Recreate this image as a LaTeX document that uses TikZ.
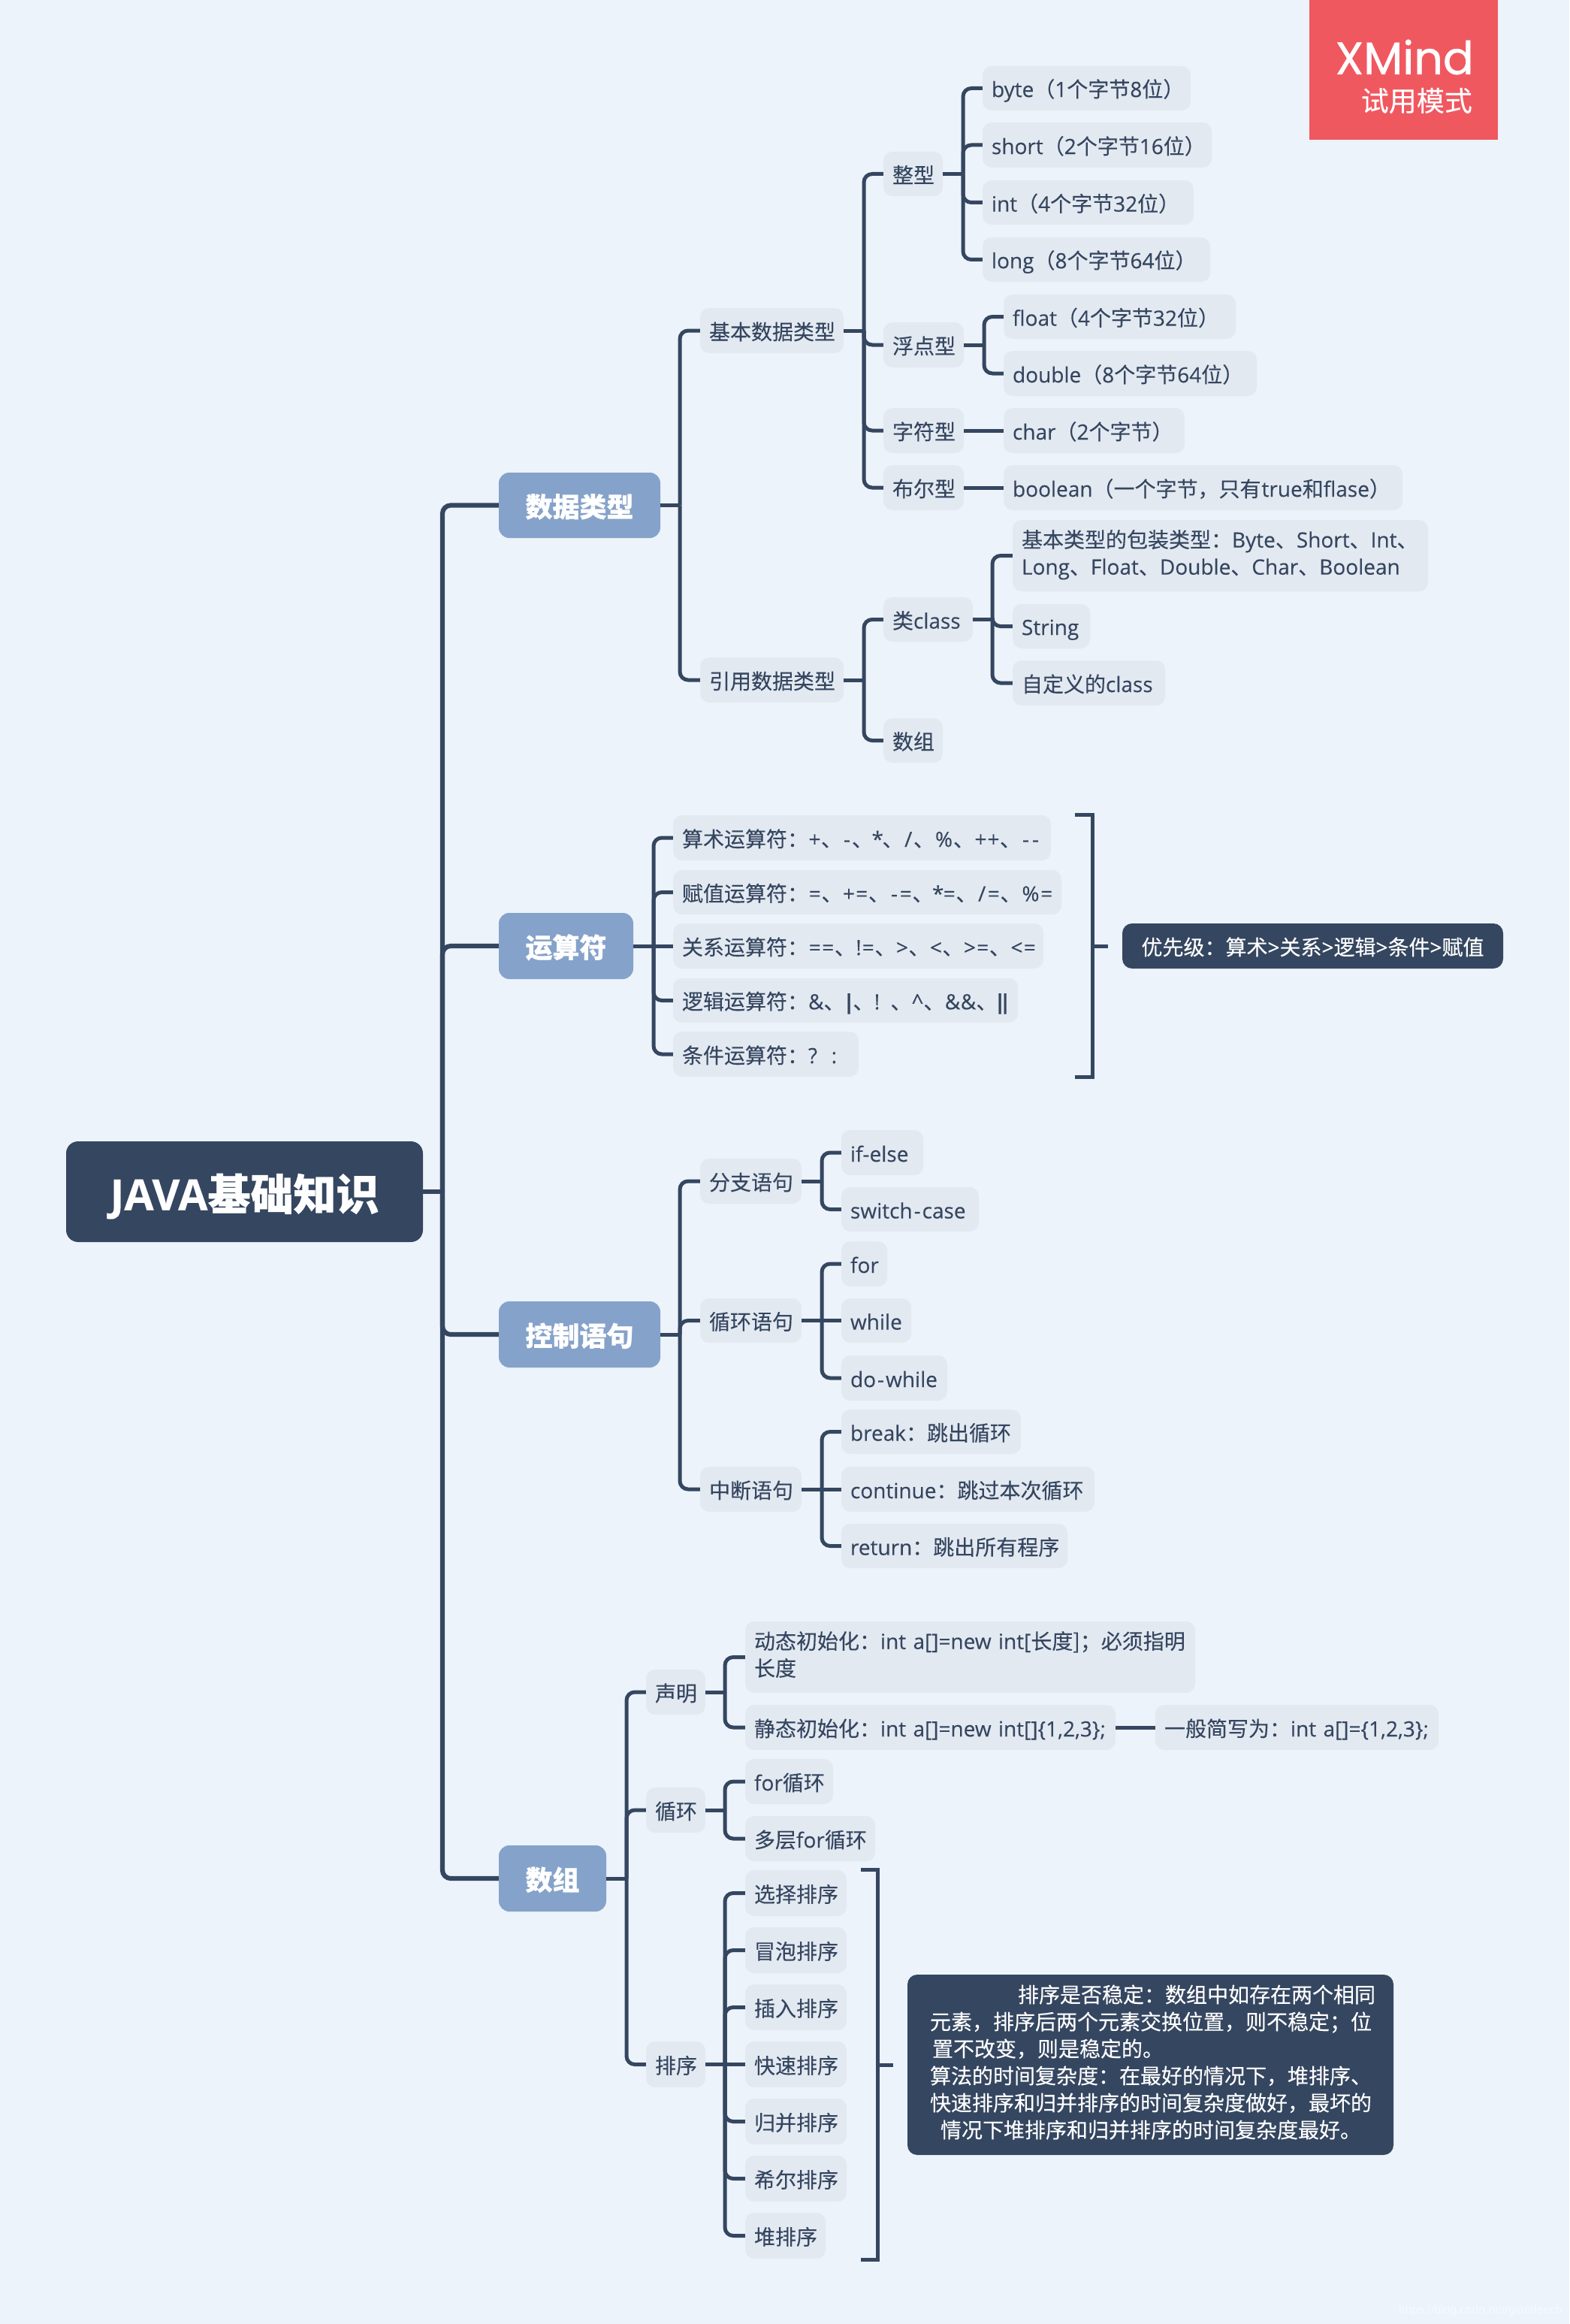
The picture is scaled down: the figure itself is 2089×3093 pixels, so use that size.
\documentclass[tikz,border=0pt]{standalone}
\usepackage{fontspec}
\setmainfont[FakeBold=0.25,BoldFeatures={FakeBold=0.25}]{Open Sans}
\newfontfamily\cjf[FakeBold=0.2,BoldFeatures={FakeBold=0.6}]{Noto Sans CJK SC}
\newfontfamily\popf[FakeBold=0.9]{Poppins}
\newfontfamily\wmf{Liberation Sans}
\newcommand\zh[1]{{\cjf #1}}
\newcommand\sy[2]{\makebox[#1pt][c]{#2}}
\newcommand\PL{\sy{17}{+}}
\newcommand\EQ{\sy{17.5}{=}}
\newcommand\HY{\sy{13}{-}}
\newcommand\ST{\sy{12.5}{*}}
\newcommand\SL{\sy{13.5}{/}}
\newcommand\PC{\sy{25}{\%}}
\newcommand\GT{\sy{17}{>}}
\newcommand\LT{\sy{17}{<}}
\newcommand\DN{\zh{、}}
\definecolor{bgc}{HTML}{ECF3FA}
\definecolor{lightc}{HTML}{E3E9F1}
\definecolor{mainc}{HTML}{85A2CA}
\definecolor{darkc}{HTML}{354660}
\definecolor{redc}{HTML}{F05860}
\definecolor{wmc}{HTML}{F8FAFD}
\tikzset{
  lightbox/.style={fill=lightc,text=darkc,rounded corners=12pt,font=\fontsize{28}{36}\selectfont},
  notebox/.style={fill=darkc,text=white,rounded corners=13pt,font=\fontsize{28}{36}\selectfont},
  mainbox/.style={fill=mainc,text=white,rounded corners=14pt,font=\fontsize{36}{44}\selectfont\bfseries},
  rootbox/.style={fill=darkc,text=white,rounded corners=16pt,font=\fontsize{57}{66}\selectfont\bfseries},
  connline/.style={draw=darkc,line width=5pt},
  spineline/.style={draw=darkc,line width=6.2pt},
  brk/.style={draw=darkc,line width=5pt},
}
% left-aligned box with 12pt padding
\newcommand\nd[7]{\node[#6,inner sep=0pt,minimum width=#4pt-#2pt,minimum height=#5pt-#3pt,text width=#4pt-#2pt-24pt,align=left]
  (#1) at ({(#2+#4)/2},{(#3+#5)/2}) {\mbox{\rule[-.21em]{0pt}{1.28em}#7}};}
% centred box
\newcommand\ct[7]{\node[#6,inner sep=0pt,minimum width=#4pt-#2pt,minimum height=#5pt-#3pt]
  (#1) at ({(#2+#4)/2},{(#3+#5)/2}) {\rule[-.21em]{0pt}{1.28em}#7};}
\newcommand\mlines[1]{\raisebox{-6pt}{\begin{tabular}[c]{@{}l@{}}#1\end{tabular}}}
% parent -> spine -> child
\newcommand\conn[4][connline]{\draw[#1] (#2.east) -- (#2.east -| #4);
  \draw[#1,rounded corners=11pt] (#2.east -| #4) |- (#3.west);}
\newcommand\connS[2]{\draw[connline] (#1.east) -- (#2.west);}
\begin{document}
\begin{tikzpicture}[x=1pt,y=-1pt]
\useasboundingbox (0,0) rectangle (2089,3093);
\fill[bgc] (0,0) rectangle (2089,3093);
% trial badge
\node[fill=redc,inner sep=0pt,minimum width=251pt,minimum height=186pt] (badge) at (1868.5,93) {};
\node[text=white,inner sep=0pt,font=\fontsize{60.5}{64}\selectfont\popf,anchor=east] (badgea) at (1962,76) {XMind};
\node[text=white,inner sep=0pt,font=\fontsize{37}{40}\selectfont\cjf,anchor=east] (badgeb) at (1960,134) {试用模式};
% root
\ct{root}{88}{1519}{563}{1653}{rootbox}{JAVA\zh{基础知识}}
% main topics
\ct{ma}{664}{629}{879}{716}{mainbox}{\zh{数据类型}}
\ct{mb}{664}{1215}{843}{1303}{mainbox}{\zh{运算符}}
\ct{mc}{664}{1732}{879}{1820}{mainbox}{\zh{控制语句}}
\ct{md}{664}{2456}{807}{2544}{mainbox}{\zh{数组}}
% data types
\nd{a1}{932}{410}{1123}{470}{lightbox}{\zh{基本数据类型}}
\nd{a2}{932}{875}{1123}{935}{lightbox}{\zh{引用数据类型}}
\nd{a11}{1176}{202}{1255}{261}{lightbox}{\zh{整型}}
\nd{a12}{1176}{429}{1283}{489}{lightbox}{\zh{浮点型}}
\nd{a13}{1176}{543}{1283}{603}{lightbox}{\zh{字符型}}
\nd{a14}{1176}{619}{1283}{679}{lightbox}{\zh{布尔型}}
\nd{a21}{1176}{795}{1295}{854}{lightbox}{\zh{类}class}
\nd{a22}{1176}{956}{1255}{1015}{lightbox}{\zh{数组}}
\nd{b1}{1308}{88}{1585}{147}{lightbox}{byte\zh{（}1\zh{个字节}8\zh{位）}}
\nd{b2}{1308}{163}{1613}{223}{lightbox}{short\zh{（}2\zh{个字节}16\zh{位）}}
\nd{b3}{1308}{240}{1589}{299}{lightbox}{int\zh{（}4\zh{个字节}32\zh{位）}}
\nd{b4}{1308}{316}{1611}{375}{lightbox}{long\zh{（}8\zh{个字节}64\zh{位）}}
\nd{c1}{1336}{392}{1645}{451}{lightbox}{float\zh{（}4\zh{个字节}32\zh{位）}}
\nd{c2}{1336}{467}{1673}{527}{lightbox}{double\zh{（}8\zh{个字节}64\zh{位）}}
\nd{d1}{1336}{543}{1577}{603}{lightbox}{char\zh{（}2\zh{个字节）}}
\nd{e1}{1336}{619}{1867}{679}{lightbox}{boolean\zh{（一个字节，只有}\hspace{1pt}true\zh{和}flase\zh{）}}
\nd{f1}{1348}{692}{1901}{787}{lightbox}{\mlines{\zh{基本类型的包装类型：}Byte\zh{、}Short\zh{、}Int\zh{、}\\Long\zh{、}Float\zh{、}Double\zh{、}Char\zh{、}Boolean}}
\nd{f2}{1348}{804}{1451}{863}{lightbox}{String}
\nd{f3}{1348}{879}{1551}{939}{lightbox}{\zh{自定义的}class}
% operators
\nd{o1}{896}{1085}{1399}{1145}{lightbox}{\zh{算术运算符：}\PL\DN\HY\DN\ST\DN\SL\DN\PC\DN\PL\PL\DN\HY\HY}
\nd{o2}{896}{1158}{1413}{1217}{lightbox}{\zh{赋值运算符：}\EQ\DN\PL\EQ\DN\HY\EQ\DN\ST\EQ\DN\SL\EQ\DN\PC\EQ}
\nd{o3}{896}{1229}{1389}{1289}{lightbox}{\zh{关系运算符：}\EQ\EQ\DN\sy{8}{!}\EQ\DN\GT\DN\LT\DN\GT\EQ\DN\LT\EQ}
\nd{o4}{896}{1302}{1355}{1361}{lightbox}{\zh{逻辑运算符：}\sy{20.5}{\&}\DN\sy{11}{\bfseries|}\DN\sy{8}{!}\hspace{14pt}\DN\sy{16}{\textasciicircum}\DN\sy{21}{\&}\sy{21}{\&}\DN\sy{7}{\bfseries|}\sy{7}{\bfseries|}}
\nd{o5}{896}{1373}{1143}{1433}{lightbox}{\zh{条件运算符：}?\ \ :}
\ct{prio}{1494}{1229}{2001}{1289}{notebox}{\zh{优先级：算术}>\zh{关系}>\zh{逻辑}>\zh{条件}>\zh{赋值}}
% control
\nd{c11}{932}{1542}{1067}{1602}{lightbox}{\zh{分支语句}}
\nd{c12}{932}{1728}{1067}{1787}{lightbox}{\zh{循环语句}}
\nd{c13}{932}{1952}{1067}{2012}{lightbox}{\zh{中断语句}}
\nd{g1}{1120}{1504}{1229}{1564}{lightbox}{if-else}
\nd{g2}{1120}{1580}{1303}{1639}{lightbox}{switch\sy{13}{-}case}
\nd{h1}{1120}{1652}{1181}{1712}{lightbox}{for}
\nd{h2}{1120}{1728}{1213}{1787}{lightbox}{while}
\nd{h3}{1120}{1804}{1261}{1864}{lightbox}{do\sy{13}{-}while}
\nd{i1}{1120}{1876}{1359}{1935}{lightbox}{break\zh{：跳出循环}}
\nd{i2}{1120}{1952}{1457}{2012}{lightbox}{continue\zh{：跳过本次循环}}
\nd{i3}{1120}{2028}{1421}{2087}{lightbox}{return\zh{：跳出所有程序}}
% arrays
\nd{s1}{860}{2222}{939}{2282}{lightbox}{\zh{声明}}
\nd{s2}{860}{2379}{939}{2439}{lightbox}{\zh{循环}}
\nd{s3}{860}{2717}{939}{2778}{lightbox}{\zh{排序}}
\nd{j1}{992}{2158}{1591}{2253}{lightbox}{\mlines{\zh{动态初始化：}int a[]=new int[\zh{长度]；必须指明}\\\zh{长度}}}
\nd{j2}{992}{2269}{1485}{2329}{lightbox}{\zh{静态初始化：}int a[]=new int[]\{1,2,3\};}
\nd{j3}{1538}{2269}{1915}{2329}{lightbox}{\zh{一般简写为：}int a[]=\{1,2,3\};}
\nd{k1}{992}{2341}{1109}{2401}{lightbox}{for\zh{循环}}
\nd{k2}{992}{2417}{1165}{2477}{lightbox}{\zh{多层}for\zh{循环}}
\nd{l1}{992}{2489}{1127}{2550}{lightbox}{\zh{选择排序}}
\nd{l2}{992}{2565}{1127}{2626}{lightbox}{\zh{冒泡排序}}
\nd{l3}{992}{2641}{1127}{2702}{lightbox}{\zh{插入排序}}
\nd{l4}{992}{2717}{1127}{2778}{lightbox}{\zh{快速排序}}
\nd{l5}{992}{2793}{1127}{2854}{lightbox}{\zh{归并排序}}
\nd{l6}{992}{2869}{1127}{2930}{lightbox}{\zh{希尔排序}}
\nd{l7}{992}{2945}{1099}{3006}{lightbox}{\zh{堆排序}}
\nd{sortnote}{1208}{2628}{1855}{2868}{notebox}{\hspace*{18pt}\mlines{\hspace*{117pt}\zh{排序是否稳定：数组中如存在两个相同}\\\zh{元素，排序后两个元素交换位置，则不稳定；位}\\\hspace*{3pt}\zh{置不改变，则是稳定的。}\\\zh{算法的时间复杂度：在最好的情况下，堆排序、}\\\zh{快速排序和归并排序的时间复杂度做好，最坏的}\\\hspace*{14pt}\zh{情况下堆排序和归并排序的时间复杂度最好。}}}
% spine coordinates
\coordinate (sr) at (589,0);
\coordinate (sa) at (905,0);
\coordinate (sa1) at (1150,0);
\coordinate (sa11) at (1282,0);
\coordinate (sa12) at (1310,0);
\coordinate (sa2) at (1150,0);
\coordinate (sa21) at (1321,0);
\coordinate (sb) at (870,0);
\coordinate (sc) at (905,0);
\coordinate (scc) at (1094,0);
\coordinate (sd) at (834,0);
\coordinate (sds) at (965,0);
% connectors
\foreach \m in {ma,mb,mc,md}{\conn[spineline]{root}{\m}{sr}}
\conn{ma}{a1}{sa}\conn{ma}{a2}{sa}
\conn{a1}{a11}{sa1}\conn{a1}{a12}{sa1}\conn{a1}{a13}{sa1}\conn{a1}{a14}{sa1}
\conn{a2}{a21}{sa2}\conn{a2}{a22}{sa2}
\foreach \m in {b1,b2,b3,b4}{\conn{a11}{\m}{sa11}}
\conn{a12}{c1}{sa12}\conn{a12}{c2}{sa12}
\connS{a13}{d1}\connS{a14}{e1}
\foreach \m in {f1,f2,f3}{\conn{a21}{\m}{sa21}}
\foreach \m in {o1,o2,o4,o5}{\conn{mb}{\m}{sb}}
\connS{mb}{o3}
\foreach \m in {c11,c12,c13}{\conn{mc}{\m}{sc}}
\conn{c11}{g1}{scc}\conn{c11}{g2}{scc}
\conn{c12}{h1}{scc}\conn{c12}{h3}{scc}\connS{c12}{h2}
\conn{c13}{i1}{scc}\conn{c13}{i3}{scc}\connS{c13}{i2}
\foreach \m in {s1,s2,s3}{\conn{md}{\m}{sd}}
\conn{s1}{j1}{sds}\conn{s1}{j2}{sds}\connS{j2}{j3}
\conn{s2}{k1}{sds}\conn{s2}{k2}{sds}
\foreach \m in {l1,l2,l3,l5,l6,l7}{\conn{s3}{\m}{sds}}
\connS{s3}{l4}
% brackets
\coordinate (bra) at (1431,1084);
\coordinate (brb) at (1431,1433);
\coordinate (brm) at (1454,1259);
\draw[brk] (bra) -- (1454,1084) -- (1454,1433) -- (brb);
\draw[brk,shorten >=19pt] (brm) -- (prio.west);
\coordinate (brc) at (1146,2488);
\coordinate (brd) at (1146,3007);
\coordinate (bre) at (1168,2748);
\draw[brk] (brc) -- (1168,2488) -- (1168,3007) -- (brd);
\draw[brk,shorten >=19pt] (bre) -- (sortnote.west);
% watermark
\node[text=wmc,inner sep=0pt,anchor=east,font=\fontsize{15.8}{18}\selectfont\wmf] (wm) at (2080,3075) {https://blog.csdn.net/giantleech};
\end{tikzpicture}
\end{document}
